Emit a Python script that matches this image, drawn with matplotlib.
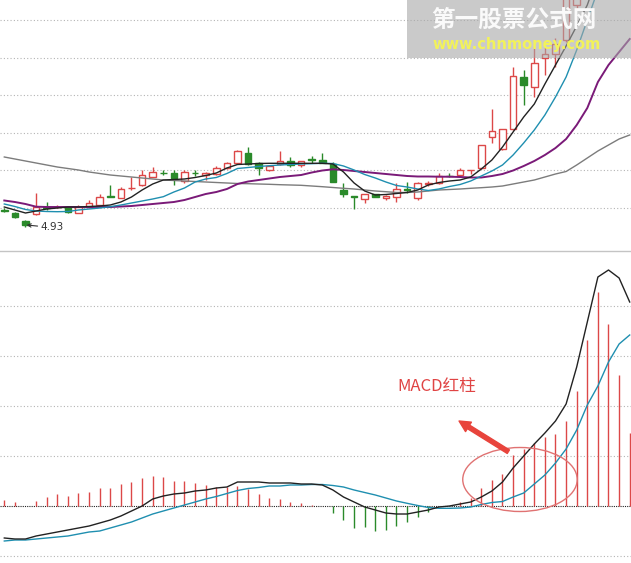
import numpy as np
import matplotlib
matplotlib.use('Agg')
import matplotlib.pyplot as plt
from matplotlib.patches import Ellipse, Rectangle

plt.rcParams['font.family'] = ['Noto Sans CJK SC', 'DejaVu Sans']

# daily k-line, 60 sessions (last ones run off the top of the window)
opens = [5.10, 5.07, 4.99, 5.06, 5.13, 5.13, 5.13, 5.07, 5.13, 5.15,
         5.24, 5.22, 5.32, 5.35, 5.43, 5.475, 5.47, 5.39, 5.475, 5.45,
         5.46, 5.52, 5.57, 5.67, 5.57, 5.50, 5.56, 5.59, 5.55, 5.61,
         5.60, 5.56, 5.30, 5.24, 5.21, 5.26, 5.22, 5.23, 5.31, 5.22,
         5.365, 5.37, 5.445, 5.45, 5.50, 5.52, 5.83, 5.71, 5.91, 6.43,
         6.33, 6.62, 6.66, 6.80, 7.15, 7.30, 7.50, 7.80, 8.05, 8.30]
closes = [5.095, 5.03, 4.95, 5.13, 5.125, 5.135, 5.08, 5.13, 5.17, 5.23,
          5.235, 5.31, 5.325, 5.45, 5.48, 5.47, 5.42, 5.48, 5.47, 5.47,
          5.52, 5.57, 5.69, 5.56, 5.52, 5.54, 5.59, 5.55, 5.59, 5.605,
          5.575, 5.38, 5.26, 5.235, 5.26, 5.23, 5.24, 5.31, 5.305, 5.37,
          5.37, 5.44, 5.44, 5.50, 5.505, 5.75, 5.89, 5.91, 6.44, 6.35,
          6.57, 6.66, 6.76, 7.30, 7.35, 7.50, 7.75, 8.05, 8.30, 8.55]
highs = [5.12, 5.08, 5.00, 5.27, 5.18, 5.15, 5.14, 5.15, 5.20, 5.26,
         5.35, 5.33, 5.43, 5.50, 5.53, 5.50, 5.50, 5.50, 5.50, 5.48,
         5.54, 5.58, 5.70, 5.73, 5.58, 5.55, 5.69, 5.63, 5.59, 5.64,
         5.67, 5.58, 5.37, 5.24, 5.26, 5.26, 5.25, 5.37, 5.38, 5.38,
         5.39, 5.47, 5.47, 5.52, 5.505, 5.75, 6.11, 5.91, 6.53, 6.50,
         6.73, 6.73, 6.82, 7.35, 7.45, 7.55, 7.85, 8.15, 8.40, 8.70]
lows = [5.08, 5.02, 4.93, 5.05, 5.10, 5.12, 5.07, 5.07, 5.12, 5.14,
        5.23, 5.22, 5.30, 5.34, 5.43, 5.45, 5.35, 5.37, 5.44, 5.40,
        5.45, 5.51, 5.56, 5.55, 5.45, 5.49, 5.55, 5.53, 5.53, 5.57,
        5.57, 5.38, 5.23, 5.11, 5.17, 5.23, 5.20, 5.18, 5.27, 5.20,
        5.34, 5.36, 5.43, 5.44, 5.46, 5.51, 5.77, 5.70, 5.90, 6.15,
        6.23, 6.45, 6.53, 6.78, 7.12, 7.25, 7.45, 7.70, 7.95, 8.20]

ma5 = [5.13, 5.10, 5.07, 5.09, 5.11, 5.12, 5.13, 5.13, 5.135, 5.14,
       5.15, 5.18, 5.23, 5.30, 5.36, 5.40, 5.405, 5.41, 5.425, 5.445,
       5.47, 5.52, 5.555, 5.56, 5.565, 5.567, 5.567, 5.567, 5.567, 5.567,
       5.567, 5.56, 5.48, 5.37, 5.29, 5.25, 5.255, 5.265, 5.275, 5.30,
       5.35, 5.375, 5.39, 5.40, 5.43, 5.51, 5.60, 5.73, 5.88, 6.03,
       6.16, 6.36, 6.55, 6.74, 6.94, 7.15, 7.45, 7.75, 8.05, 8.35]
ma10 = [5.16, 5.135, 5.105, 5.09, 5.085, 5.083, 5.085, 5.10, 5.11, 5.12,
        5.133, 5.15, 5.17, 5.19, 5.21, 5.233, 5.28, 5.32, 5.38, 5.41,
        5.425, 5.465, 5.515, 5.525, 5.535, 5.543, 5.55, 5.555, 5.56, 5.563,
        5.567, 5.565, 5.54, 5.50, 5.455, 5.42, 5.38, 5.345, 5.33, 5.31,
        5.295, 5.31, 5.335, 5.355, 5.39, 5.44, 5.49, 5.55, 5.65, 5.77,
        5.90, 6.05, 6.23, 6.43, 6.70, 7.00, 7.30, 7.60, 7.90, 8.20]
ma20 = [5.195, 5.18, 5.16, 5.133, 5.13, 5.13, 5.13, 5.13, 5.13, 5.13,
        5.13, 5.135, 5.14, 5.15, 5.16, 5.17, 5.18, 5.20, 5.23, 5.26,
        5.28, 5.31, 5.36, 5.385, 5.40, 5.415, 5.43, 5.44, 5.45, 5.475,
        5.495, 5.507, 5.50, 5.49, 5.48, 5.47, 5.46, 5.45, 5.44, 5.435,
        5.435, 5.433, 5.433, 5.43, 5.425, 5.425, 5.44, 5.46, 5.495, 5.54,
        5.59, 5.65, 5.72, 5.81, 5.95, 6.12, 6.38, 6.55, 6.68, 6.81]
ma60 = [5.63, 5.61, 5.59, 5.57, 5.55, 5.53, 5.515, 5.50, 5.48, 5.465,
        5.45, 5.44, 5.43, 5.42, 5.41, 5.40, 5.395, 5.39, 5.385, 5.38,
        5.375, 5.37, 5.365, 5.363, 5.36, 5.357, 5.353, 5.35, 5.347, 5.34,
        5.333, 5.325, 5.317, 5.31, 5.30, 5.29, 5.283, 5.275, 5.275, 5.28,
        5.29, 5.30, 5.305, 5.31, 5.317, 5.323, 5.33, 5.34, 5.36, 5.38,
        5.40, 5.43, 5.46, 5.485, 5.55, 5.62, 5.69, 5.75, 5.81, 5.85]

# MACD(12,26,9)
dif = [-0.032, -0.033, -0.033, -0.030, -0.028, -0.026, -0.024, -0.022, -0.020, -0.017,
       -0.014, -0.010, -0.005, 0.000, 0.007, 0.010, 0.012, 0.013, 0.015, 0.016,
       0.018, 0.019, 0.024, 0.024, 0.024, 0.023, 0.023, 0.023, 0.022, 0.022,
       0.021, 0.016, 0.009, 0.004, -0.001, -0.004, -0.007, -0.008, -0.008, -0.006,
       -0.004, -0.001, 0.000, 0.002, 0.004, 0.009, 0.015, 0.024, 0.038, 0.050,
       0.062, 0.073, 0.085, 0.102, 0.139, 0.184, 0.229, 0.236, 0.228, 0.204]
dea = [-0.035, -0.034, -0.034, -0.033, -0.032, -0.031, -0.030, -0.028, -0.026, -0.025,
       -0.022, -0.019, -0.016, -0.012, -0.008, -0.005, -0.002, 0.001, 0.004, 0.007,
       0.0095, 0.0125, 0.0155, 0.0175, 0.0185, 0.020, 0.020, 0.021, 0.021, 0.0215,
       0.0215, 0.0205, 0.019, 0.016, 0.0135, 0.011, 0.008, 0.005, 0.0027, 0.0005,
       -0.0015, -0.0023, -0.0023, -0.002, -0.001, 0.0015, 0.0035, 0.0045, 0.009, 0.013,
       0.022, 0.031, 0.043, 0.057, 0.076, 0.101, 0.120, 0.144, 0.162, 0.171]
macd = [0.006, 0.004, 0.000, 0.005, 0.009, 0.012, 0.010, 0.013, 0.014, 0.018,
        0.018, 0.022, 0.024, 0.028, 0.030, 0.029, 0.025, 0.025, 0.023, 0.021,
        0.019, 0.019, 0.020, 0.017, 0.012, 0.008, 0.007, 0.004, 0.003, 0.001,
        0.000, -0.007, -0.014, -0.022, -0.021, -0.025, -0.024, -0.020, -0.016, -0.011,
        -0.006, 0.000, 0.000, 0.004, 0.008, 0.018, 0.026, 0.032, 0.051, 0.057,
        0.063, 0.069, 0.072, 0.085, 0.115, 0.166, 0.214, 0.182, 0.131, 0.073]

low_label = '4.93'
low_idx = 2
note = 'MACD红柱'
wm_cn = '第一股票公式网'
wm_url = 'www.chnmoney.com'

RED = '#dc4848'
GREEN = '#2a8a2a'

o = np.array(opens); c = np.array(closes)
h = np.array(highs); l = np.array(lows)
x = np.arange(len(c))
up = c >= o
blo = np.minimum(o, c); bhi = np.maximum(o, c)
cols = np.where(up, RED, GREEN)

W, H = 631, 563
fig = plt.figure(figsize=(W / 100, H / 100), dpi=100)
split = 250.5 / H
ax1 = fig.add_axes([0, 1 - split, 1, split])
ax2 = fig.add_axes([0, 0, 1, 1 - split])
step = 10.6
xlim = (-4.3 / step, (W - 4.3) / step)

# --- price panel
ax1.vlines(x, bhi, h, colors=cols, lw=1, zorder=2)
ax1.vlines(x, l, blo, colors=cols, lw=1, zorder=2)
ax1.bar(x[up], (bhi - blo)[up], bottom=blo[up], width=0.62,
        facecolor='white', edgecolor=RED, lw=1, zorder=2)
ax1.bar(x[~up], (bhi - blo)[~up], bottom=blo[~up], width=0.62,
        facecolor=GREEN, edgecolor=GREEN, lw=1, zorder=2)

ax1.plot(x, ma60, color='#7c7c7c', lw=1, zorder=3)
ax1.plot(x, ma20, color='#7a1a78', lw=1.4, zorder=3)
ax1.plot(x, ma10, color='#1f8fb0', lw=1, zorder=3)
ax1.plot(x, ma5, color='#222222', lw=1, zorder=3)

ax1.annotate(low_label, xy=(low_idx + 0.1, lows[low_idx] + 0.02),
             xytext=(low_idx + 1.4, lows[low_idx] - 0.005),
             fontsize=7.5, color='#333333', va='center', ha='left',
             family='DejaVu Sans',
             arrowprops=dict(arrowstyle='->', lw=0.8, color='#333333',
                             shrinkA=0, shrinkB=0, mutation_scale=6))

ax1.set_xlim(*xlim)
ax1.set_ylim(7.20 - 2.505, 7.20)
ax1.set_yticks(5.12 + 0.376 * np.arange(6))
ax1.grid(axis='y', color='#b4b4b4', ls=(0, (1, 2)), lw=0.8)

# --- MACD panel
mc = np.array(macd)
ax2.vlines(x, 0, mc, colors=np.where(mc >= 0, RED, GREEN), lw=1, zorder=2)
ax2.plot(x, dea, color='#1f8fb0', lw=1, zorder=3)
ax2.plot(x, dif, color='#222222', lw=1, zorder=3)
ax2.axhline(0, color='#222222', ls=(0, (1, 1)), lw=0.8, zorder=1)

ax2.add_patch(Ellipse((48.65, 0.0265), 10.8, 0.064, fill=False,
                      edgecolor='#e07272', lw=1, zorder=4))
ax2.annotate('', xy=(42.9, 0.085), xytext=(47.55, 0.0543),
             arrowprops=dict(arrowstyle='simple,head_length=0.8,head_width=0.8,tail_width=0.3',
                             color='#e8443c', shrinkA=0, shrinkB=0, mutation_scale=10),
             zorder=5)
ax2.text(40.8, 0.120, note, color='#e04444', fontsize=12, ha='center', va='center')

ax2.set_xlim(*xlim)
ax2.set_ylim(-0.057, 0.2555)
ax2.set_yticks([-0.05, 0.05, 0.10, 0.15, 0.20])
ax2.grid(axis='y', color='#b4b4b4', ls=(0, (1, 2)), lw=0.8)

for ax in (ax1, ax2):
    ax.set_xticks([])
    ax.tick_params(left=False, labelleft=False)
    for s in ax.spines.values():
        s.set_visible(False)
ax2.spines['top'].set_visible(True)
ax2.spines['top'].set_color('#c4c4c4')
ax2.spines['top'].set_linewidth(1)

# --- watermark box
fig.patches.append(Rectangle((407 / W, 1 - 58 / H), (W - 407) / W, 58 / H,
                             transform=fig.transFigure, facecolor='#a8a8a8',
                             alpha=0.6, edgecolor='none', zorder=10))
fig.text(514 / W, 1 - 20 / H, wm_cn, color='#fafafa', fontsize=17,
         fontweight='bold', ha='center', va='center', zorder=11)
fig.text(517 / W, 1 - 44 / H, wm_url, color='#f2f25a', fontsize=10.5,
         fontweight='bold', ha='center', va='center', zorder=11,
         family='DejaVu Sans')

fig.savefig('out.png', dpi=100)
